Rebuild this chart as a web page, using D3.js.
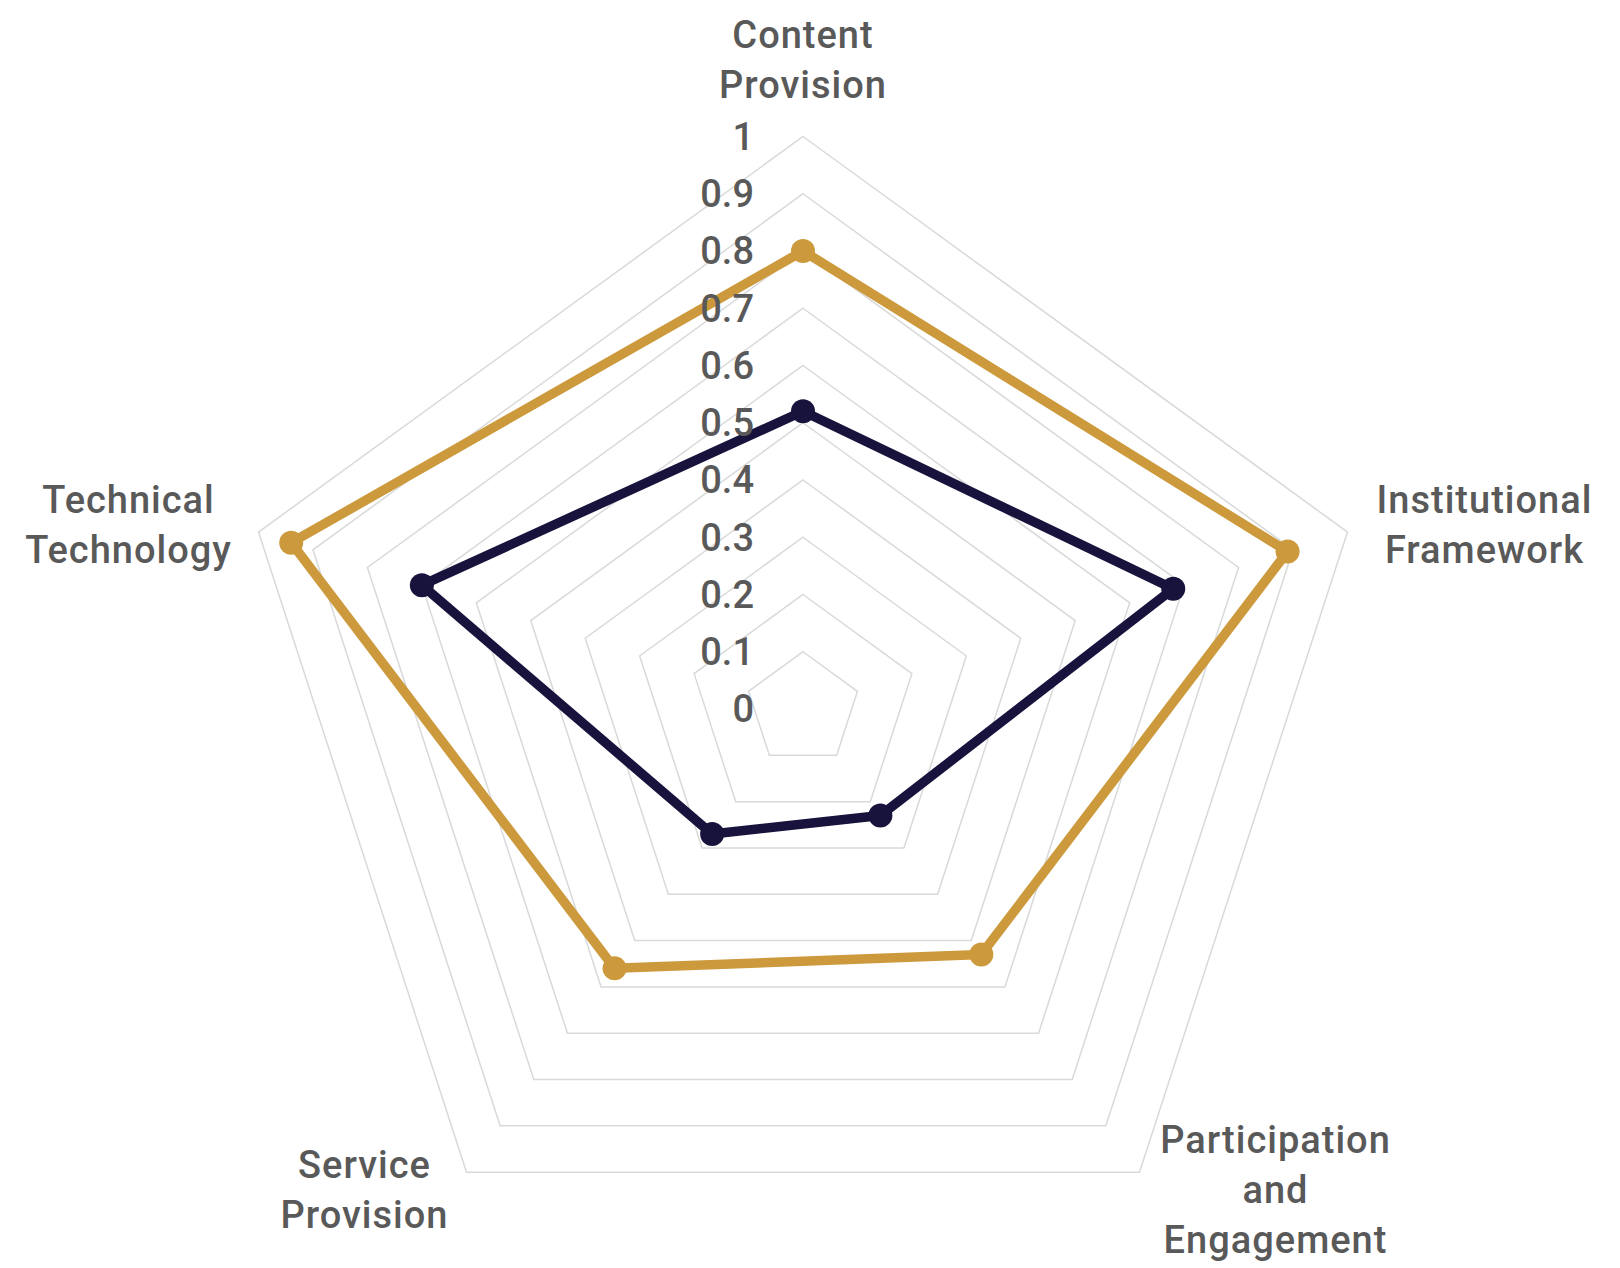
<!DOCTYPE html>
<html lang="en">
<head>
  <meta charset="UTF-8">
  <title>Radar</title>
  <style>
    html, body { margin: 0; padding: 0; background: #fff; }
    svg { display: block; }
  </style>
</head>
<body>
  <script src="https://d3js.org/d3.v7.min.js"></script>
  <script>

    const axes = [
      ['Content', 'Provision'],
      ['Institutional', 'Framework'],
      ['Participation', 'and', 'Engagement'],
      ['Service', 'Provision'],
      ['Technical', 'Technology']
    ]
    const seriesA = [0.8, 0.89, 0.53, 0.56, 0.94]   // gold
    const seriesB = [0.52, 0.68, 0.23, 0.27, 0.70]  // navy
    const ticks = [0, 0.1, 0.2, 0.3, 0.4, 0.5, 0.6, 0.7, 0.8, 0.9, 1]
    const tickLabels = ['0', '0.1', '0.2', '0.3', '0.4', '0.5', '0.6', '0.7', '0.8', '0.9', '1']

    // label block offsets from the outer vertex (layout only)
    const labelShift = [[0, -77], [137, -7], [136, 18], [-102, 18], [-130, -7]]

    const W = 1620, H = 1268
    const cx = 803, cy = 709, R = 572.5
    const gold = '#cc9a3c', navy = '#17133d', textCol = '#595959'
    const font = 'Roboto, "DejaVu Sans", sans-serif'

    const svg = d3.select('body')
      .append('svg')
      .attr('width', W)
      .attr('height', H)

    const g = svg.append('g').attr('transform', `translate(${cx}, ${cy})`)

    const r = d3.scaleLinear().domain([0, 1]).range([0, R])
    const angle = d3.scalePoint()
      .domain(d3.range(axes.length))
      .range([0, 2 * Math.PI * (axes.length - 1) / axes.length])

    const pt = (i, v) => {
      const a = angle(i) - Math.PI / 2
      return [Math.cos(a) * r(v), Math.sin(a) * r(v)]
    }

    // grid pentagons
    g.append('g')
      .selectAll('path')
      .data(ticks)
      .join('path')
      .attr('d', t => d3.line()(axes.map((_, i) => pt(i, t))) + 'Z')
      .attr('fill', 'none')
      .attr('stroke', '#d9d9d9')
      .attr('stroke-width', 1.5)

    const line = d3.line().curve(d3.curveLinearClosed)

    const series = [
      { values: seriesB, color: navy },
      { values: seriesA, color: gold }
    ]

    series.forEach(s => {
      const pts = s.values.map((v, i) => pt(i, v))
      g.append('path')
        .attr('d', line(pts))
        .attr('fill', 'none')
        .attr('stroke', s.color)
        .attr('stroke-width', 9.5)
        .attr('stroke-linejoin', 'round')
      g.append('g')
        .selectAll('circle')
        .data(pts)
        .join('circle')
        .attr('cx', d => d[0])
        .attr('cy', d => d[1])
        .attr('r', 12)
        .attr('fill', s.color)
    })

    // tick labels
    g.append('g')
      .selectAll('text')
      .data(ticks)
      .join('text')
      .attr('x', -49)
      .attr('y', t => -r(t))
      .attr('dy', '0.35em')
      .attr('text-anchor', 'end')
      .attr('font-family', font)
      .attr('font-size', 38)
      .attr('font-weight', 500)
      .attr('fill', textCol)
      .text((t, i) => tickLabels[i])

    // axis labels
    const lineH = 50
    axes.forEach((lines, i) => {
      const [vx, vy] = pt(i, 1)
      const [sx, sy] = labelShift[i]
      const x = vx + sx, y = vy + sy
      const top = y - (lines.length - 1) * lineH / 2
      const t = g.append('text')
        .attr('text-anchor', 'middle')
        .attr('font-family', font)
        .attr('font-size', 38)
        .attr('font-weight', 500)
        .attr('letter-spacing', 1)
        .attr('fill', textCol)
      lines.forEach((l, j) => {
        t.append('tspan')
          .attr('x', x)
          .attr('y', top + j * lineH)
          .attr('dy', '0.35em')
          .text(l)
      })
    })

  </script>
</body>
</html>
